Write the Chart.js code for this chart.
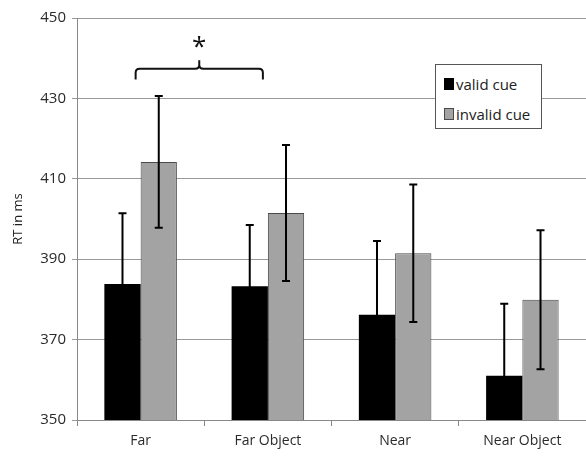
<!DOCTYPE html>
<html>
<head>
<meta charset="utf-8">
<script src="https://cdn.jsdelivr.net/npm/chart.js@4/dist/chart.umd.min.js"></script>
<style>
    html, body { margin: 0; padding: 0; background: #fff; }
    #wrap { position: relative; width: 586px; height: 456px; }
    #legend {
        position: absolute; left: 435px; top: 64px; width: 107px; height: 65px;
        border: 1px solid #555; background: #fff; box-sizing: border-box;
        font-family: "Open Sans", sans-serif; font-size: 15px; color: #222;
        padding: 4px 0 0 8px;
    }
    .legend-item { display: flex; align-items: center; height: 30px; white-space: nowrap; }
    .legend-box { width: 10px; height: 12px; margin-right: 2px; box-sizing: border-box; flex: none; }
</style>
</head>
<body>
<div id="wrap">
    <canvas id="rtChart" width="586" height="456"></canvas>
    <div id="legend"></div>
</div>
<script>
// Data
const categories = ['Far', 'Far Object', 'Near', 'Near Object'];
const validCue = [383.8, 383.3, 376.2, 361.0];
const invalidCue = [414.2, 401.5, 391.5, 379.9];
const validErr = [17.6, 15.2, 18.3, 17.9];
const invalidErr = [16.4, 16.9, 17.1, 17.3];
const yTicks = [350, 370, 390, 410, 430, 450];

// Error bar plugin: whiskers drawn from the error arrays
const errorBars = {
    id: 'errorBars',
    afterDatasetsDraw(chart) {
        const ctx = chart.ctx;
        const y = chart.scales.y;
        const area = chart.chartArea;
        const errs = [validErr, invalidErr];
        ctx.save();
        ctx.beginPath();
        ctx.rect(area.left, area.top, area.right - area.left, area.bottom - area.top);
        ctx.clip();
        ctx.strokeStyle = '#000';
        ctx.lineWidth = 2;
        chart.data.datasets.forEach((ds, i) => {
            chart.getDatasetMeta(i).data.forEach((bar, j) => {
                const v = ds.data[j];
                const top = y.getPixelForValue(v + errs[i][j]);
                const bot = y.getPixelForValue(v - errs[i][j]);
                ctx.beginPath();
                ctx.moveTo(bar.x, top);
                ctx.lineTo(bar.x, bot);
                ctx.moveTo(bar.x - 4, top);
                ctx.lineTo(bar.x + 4, top);
                ctx.moveTo(bar.x - 4, bot);
                ctx.lineTo(bar.x + 4, bot);
                ctx.stroke();
            });
        });
        ctx.restore();
    }
};

// Significance brace between Far and Far Object
const braceMark = {
    id: 'braceMark',
    afterDraw(chart) {
        const ctx = chart.ctx;
        const x = chart.scales.x, y = chart.scales.y;
        const x1 = x.getPixelForValue(0) - 5;
        const x2 = x.getPixelForValue(1) - 5;
        const xm = (x1 + x2) / 2;
        const yEnd = y.getPixelForValue(434.7);
        const yBar = y.getPixelForValue(437.4);
        const yTip = y.getPixelForValue(439.5);
        const r = 4;
        ctx.save();
        ctx.strokeStyle = '#111';
        ctx.lineWidth = 2;
        ctx.beginPath();
        ctx.moveTo(x1, yEnd);
        ctx.lineTo(x1, yBar + r);
        ctx.quadraticCurveTo(x1, yBar, x1 + r, yBar);
        ctx.lineTo(xm - r, yBar);
        ctx.quadraticCurveTo(xm, yBar, xm, yBar - r);
        ctx.lineTo(xm, yTip);
        ctx.moveTo(xm, yBar - r);
        ctx.quadraticCurveTo(xm, yBar, xm + r, yBar);
        ctx.lineTo(x2 - r, yBar);
        ctx.quadraticCurveTo(x2, yBar, x2, yBar + r);
        ctx.lineTo(x2, yEnd);
        ctx.stroke();
        ctx.fillStyle = '#111';
        ctx.font = '26px "Open Sans", sans-serif';
        ctx.textAlign = 'center';
        ctx.textBaseline = 'middle';
        ctx.fillText('*', xm, y.getPixelForValue(442.6));
        ctx.restore();
    }
};

const chart = new Chart(document.getElementById('rtChart'), {
    type: 'bar',
    data: {
        labels: categories,
        datasets: [{
            label: 'valid cue',
            data: validCue,
            backgroundColor: '#000000',
            borderColor: '#000000',
            borderWidth: 0
        }, {
            label: 'invalid cue',
            data: invalidCue,
            backgroundColor: '#a3a3a3',
            borderColor: '#4a4a4a',
            borderWidth: 1
        }]
    },
    options: {
        responsive: false,
        animation: false,
        layout: { padding: { top: 18, right: 0, left: 0, bottom: 0 } },
        datasets: { bar: { categoryPercentage: 0.57, barPercentage: 1 } },
        plugins: {
            legend: { display: false },
            tooltip: { enabled: false }
        },
        scales: {
            x: {
                grid: { offset: true, drawOnChartArea: false, drawTicks: true, tickLength: 6, color: '#888' },
                border: { color: '#888' },
                ticks: { color: '#2a2a2a', font: { family: 'Open Sans', size: 14 }, padding: 7 },
                afterFit(scale) { scale.height = 36; }
            },
            y: {
                min: 350,
                max: 450,
                afterBuildTicks(scale) { scale.ticks = yTicks.map(v => ({ value: v })); },
                grid: { color: '#999', tickLength: 5 },
                border: { color: '#888' },
                ticks: { color: '#2a2a2a', font: { family: 'Open Sans', size: 15 }, padding: 6 },
                title: { display: true, text: 'RT in ms', color: '#222', font: { family: 'Open Sans', size: 13 }, padding: { top: 10, bottom: 0 } },
                afterFit(scale) { scale.width = 77; }
            }
        }
    },
    plugins: [errorBars, braceMark]
});

// HTML legend from the datasets
document.getElementById('legend').innerHTML = chart.data.datasets.map(ds => `
    <div class="legend-item">
        <span class="legend-box" style="background:${ds.backgroundColor};border:1px solid ${ds.borderColor}"></span>
        <span>${ds.label}</span>
    </div>
`).join('');
</script>
</body>
</html>
